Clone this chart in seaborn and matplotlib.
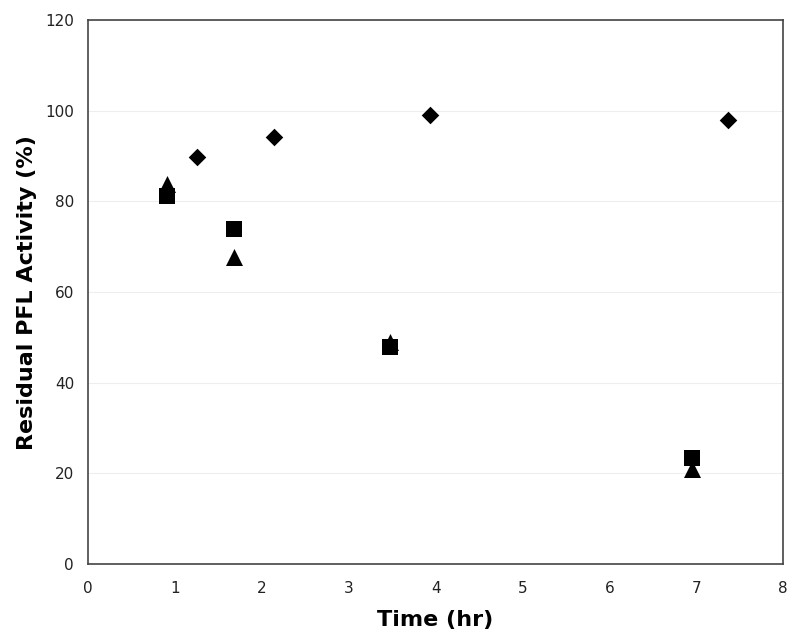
import pandas as pd
import numpy as np
import matplotlib
matplotlib.use("Agg")
import matplotlib.pyplot as plt
import seaborn as sns

# ── DATA ──────────────────────────────────────────────────────────────────────
diamond_time = [1.26, 2.14, 3.93, 7.37]
diamond_activity = [89.8, 94.2, 99.1, 98.0]

square_time = [0.91, 1.68, 3.47, 6.95]
square_activity = [81.2, 74.0, 47.9, 23.4]

triangle_time = [0.91, 1.68, 3.47, 6.95]
triangle_activity = [83.8, 67.7, 49.0, 21.0]

x_ticks = [0, 1, 2, 3, 4, 5, 6, 7, 8]
y_ticks = [0, 20, 40, 60, 80, 100, 120]

# ── PLOT ──────────────────────────────────────────────────────────────────────
sns.set_theme(style="white")
plt.rcParams["font.family"] = ["DejaVu Sans"]

fig = plt.figure(figsize=(8, 6.39), dpi=100)
ax = fig.add_axes([0.11, 0.1174, 0.869, 0.851])

series = [
    (diamond_time, diamond_activity, "D", 80),
    (square_time, square_activity, "s", 135),
    (triangle_time, triangle_activity, "^", 150),
]
for t, a, mk, sz in series:
    df = pd.DataFrame({"Time": t, "Activity": a})
    sns.scatterplot(data=df, x="Time", y="Activity", marker=mk, s=sz,
                    color="black", edgecolor="black", linewidth=0, ax=ax,
                    zorder=3)

ax.set_xlim(0, 8)
ax.set_ylim(0, 120)
ax.set_xticks(x_ticks)
ax.set_yticks(y_ticks)
ax.tick_params(axis="both", labelsize=11, length=0, colors="#222222")
ax.tick_params(axis="x", pad=12)
ax.tick_params(axis="y", pad=10)
ax.yaxis.grid(True, color="#eeeeee", linewidth=0.8)
ax.xaxis.grid(False)
for sp in ax.spines.values():
    sp.set_color("#444444")
    sp.set_linewidth(1.2)

ax.set_xlabel("Time (hr)", fontsize=16, fontweight="bold", labelpad=10,
              color="black")
ax.set_ylabel("Residual PFL Activity (%)", fontsize=16, fontweight="bold",
              labelpad=6, color="black")

plt.savefig("out.png", dpi=100)
plt.close()
